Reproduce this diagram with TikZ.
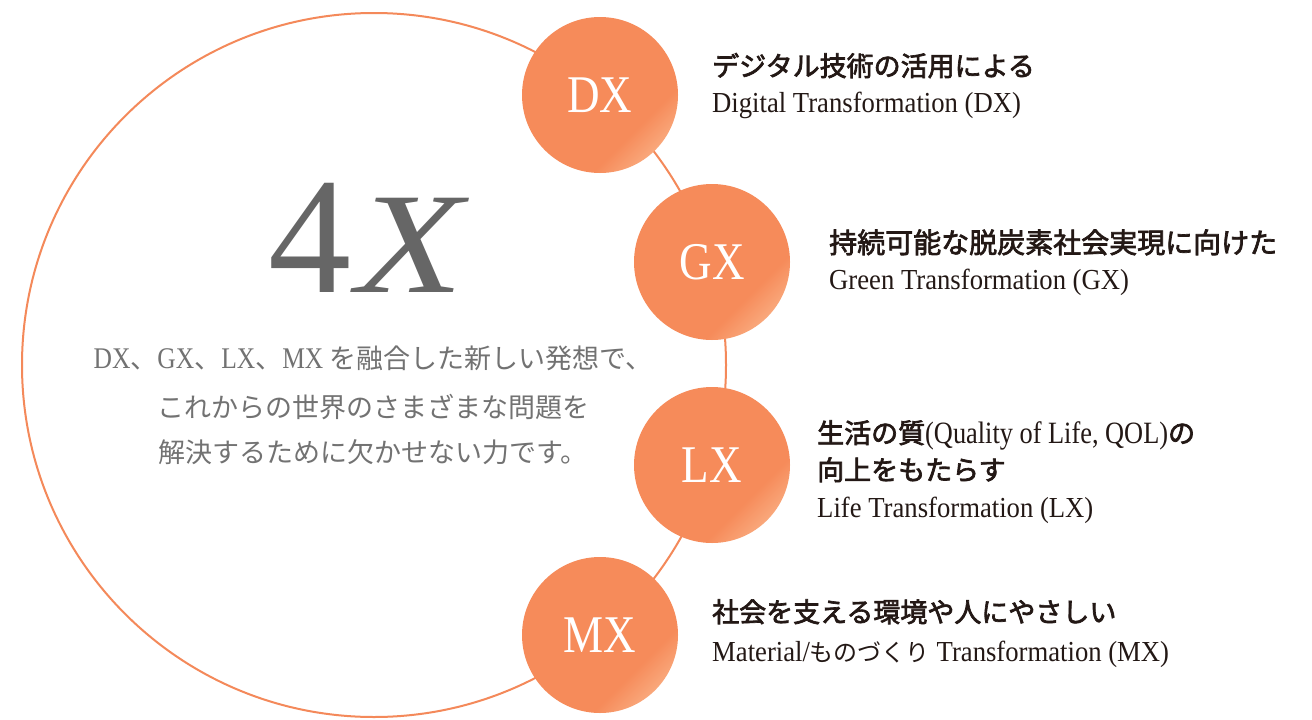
\documentclass[tikz,border=0pt]{standalone}
\usepackage{fontspec}
\setmainfont{Liberation Serif}
\newfontfamily\en{Liberation Serif}[FakeStretch=0.85]
\newfontfamily\ensub{Liberation Serif}[FakeStretch=0.92]
\newfontfamily\cjk{Noto Sans CJK JP}
\newfontfamily\cjkh{Noto Sans CJK JP}[FakeBold=2.5]
\newcommand\bx[1]{{\en\fontsize{30}{30}\selectfont #1}}
\definecolor{orb}{HTML}{F68B5A}
\definecolor{orblight}{HTML}{FBB88E}
\definecolor{ring}{HTML}{F4895A}
\definecolor{ink}{HTML}{231815}
\definecolor{bigx}{HTML}{666666}
\definecolor{bodytxt}{HTML}{727272}
\pgfdeclarehorizontalshading{orbshade}{100bp}{color(0bp)=(orb); color(66bp)=(orb); color(80bp)=(orblight); color(100bp)=(orblight)}
\begin{document}
\begin{tikzpicture}[x=1pt,y=-1pt,
  orbnode/.style={circle, minimum size=156pt, inner sep=0pt, shading=orbshade, shading angle=-45, text=white, font=\en\fontsize{53}{53}\selectfont},
  headtxt/.style={anchor=base west, inner sep=0pt, text=ink, font=\cjkh\fontsize{27}{37}\selectfont},
  subtxt/.style={anchor=base west, inner sep=0pt, text=ink, font=\ensub\fontsize{29}{30}\selectfont},
  bodyline/.style={anchor=base, inner sep=0pt, text=bodytxt, font=\cjk\fontsize{27}{30}\selectfont}]
\useasboundingbox (0,0) rectangle (1312,720);
\fill[white] (0,0) rectangle (1312,720);
\coordinate (c) at (374,365);
\draw[ring, line width=2pt] (c) circle[radius=352];
\node[orbnode] (dx) at (600,95) {DX};
\node[orbnode] (gx) at (712,262) {GX};
\node[orbnode] (lx) at (712,465) {LX};
\node[orbnode] (mx) at (600,635) {MX};
% big title
\node[anchor=base west, inner sep=0pt, text=bigx, font=\fontsize{166}{166}\selectfont] (four) at (268,292) {4};
\node[anchor=base west, inner sep=0pt, text=bigx, font=\fontsize{144}{144}\selectfont\itshape] (xx) at (356,292) {\scalebox{1.22}[1]{X}};
% body text
\node[bodyline] (b1) at (373,368) {\bx{DX}、\bx{GX}、\bx{LX}、\bx{MX} を融合した新しい発想で、};
\node[bodyline] (b2) at (373,417) {これからの世界のさまざまな問題を};
\node[bodyline] (b3) at (373,462) {解決するために欠かせない力です。};
% DX
\node[headtxt] (dxh) at (712,76) {デジタル技術の活用による};
\node[subtxt] (dxs) at (712,112) {Digital Transformation (DX)};
% GX
\node[headtxt, font=\cjkh\fontsize{28}{37}\selectfont] (gxh) at (829,253) {持続可能な脱炭素社会実現に向けた};
\node[subtxt] (gxs) at (829,289) {Green Transformation (GX)};
% LX
\node[headtxt] (lxh1) at (817,443) {生活の質{\en\fontsize{31}{30}\selectfont (Quality of Life, QOL)}の};
\node[headtxt] (lxh2) at (817,480) {向上をもたらす};
\node[subtxt] (lxs) at (817,517) {Life Transformation (LX)};
% MX
\node[headtxt] (mxh) at (712,622) {社会を支える環境や人にやさしい};
\node[subtxt] (mxs) at (712,661) {Material/{\cjk\fontsize{24}{30}\selectfont ものづくり} Transformation (MX)};
\end{tikzpicture}
\end{document}
